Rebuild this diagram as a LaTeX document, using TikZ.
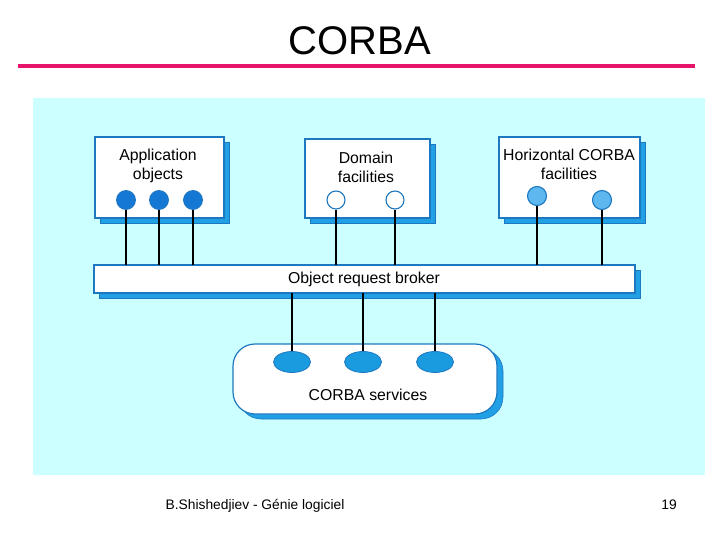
\documentclass[tikz,border=0pt]{standalone}
\usepackage{fontspec}
\setmainfont{Liberation Sans}
\definecolor{bgcyan}{HTML}{CCFFFF}
\definecolor{edgeblue}{HTML}{1E78C0}
\definecolor{shadowblue}{HTML}{22A0E6}
\definecolor{darkdot}{HTML}{1478D4}
\definecolor{lightdot}{HTML}{5CB8EE}
\definecolor{servdot}{HTML}{1A9BE0}
\definecolor{rulered}{HTML}{E6146A}
\tikzset{
  box/.style={draw=edgeblue, line width=1.2pt, fill=white},
  boxshadow/.style={fill=shadowblue, draw=edgeblue, line width=0.6pt},
  lbl/.style={font=\fontsize{15.8}{19}\selectfont, align=center, inner sep=0pt},
  wire/.style={line width=1.3pt, black},
  dotA/.style={circle, draw=edgeblue, line width=0.8pt, fill=darkdot, minimum size=19pt, inner sep=0pt},
  dotB/.style={circle, draw=edgeblue, line width=1.1pt, fill=white, minimum size=18pt, inner sep=0pt},
  dotC/.style={circle, draw=edgeblue, line width=1.1pt, fill=lightdot, minimum size=19pt, inner sep=0pt},
  dotS/.style={ellipse, draw=edgeblue, line width=0.8pt, fill=servdot, minimum width=37pt, minimum height=21pt, inner sep=0pt},
}
\usetikzlibrary{shapes.geometric}
\begin{document}
\begin{tikzpicture}[x=1pt,y=-1pt]
\useasboundingbox (0,0) rectangle (720,540);
% title
\node[font=\fontsize{40}{44}\selectfont, anchor=base] (title) at (360,55) {CORBA};
\draw[rulered, line width=3.5pt] (18,66) -- (695,66);
% background
\fill[bgcyan] (33,98) rectangle (705,475);
% Application objects
\draw[boxshadow] (100,142) rectangle (229,223);
\draw[box] (95,137) rectangle (224,218);
\node[lbl] (appt) at (158,165.5) {Application\\objects};
\node[dotA] (a1) at (126,200) {};
\node[dotA] (a2) at (159,200) {};
\node[dotA] (a3) at (193,200) {};
% Domain facilities
\draw[boxshadow] (310,144) rectangle (435,223);
\draw[box] (305,139) rectangle (430,218);
\node[lbl] (domt) at (366,167.5) {Domain\\facilities};
\node[dotB] (d1) at (336,200) {};
\node[dotB] (d2) at (395,200) {};
% Horizontal CORBA facilities
\draw[boxshadow] (504,142) rectangle (645,223);
\draw[box] (499,137) rectangle (640,218);
\node[lbl] (hort) at (569,164.5) {Horizontal CORBA\\facilities};
\node[dotC] (h1) at (537,196) {};
\node[dotC] (h2) at (602,200) {};
% ORB
\draw[boxshadow] (99,270) rectangle (640,298);
\draw[box] (94,265) rectangle (635,293);
\node[lbl] (orb) at (364,279) {Object request broker};
% wires top
\foreach \d/\x in {a1/126,a2/159,a3/193,d1/336,d2/395,h1/537,h2/602}{
  \coordinate (t\d) at (\x,265);
  \draw[wire] (\d.south) -- (t\d);
}
% CORBA services
\draw[boxshadow, rounded corners=22pt] (239,349) rectangle (503,419);
\draw[box, rounded corners=22pt] (233,344) rectangle (497,414);
\node[lbl] (servt) at (368,395) {CORBA services};
\node[dotS] (s1) at (292,362) {};
\node[dotS] (s2) at (363,362) {};
\node[dotS] (s3) at (435,362) {};
\foreach \s/\x in {s1/292,s2/363,s3/435}{
  \coordinate (b\s) at (\x,293);
  \draw[wire] (b\s) -- (\s.north);
}
% footer
\node[font=\fontsize{13.8}{16}\selectfont, anchor=base] (foot) at (255,509) {B.Shishedjiev - Génie logiciel};
\node[font=\fontsize{13.8}{16}\selectfont, anchor=base] (page) at (669,509) {19};
\end{tikzpicture}
\end{document}
